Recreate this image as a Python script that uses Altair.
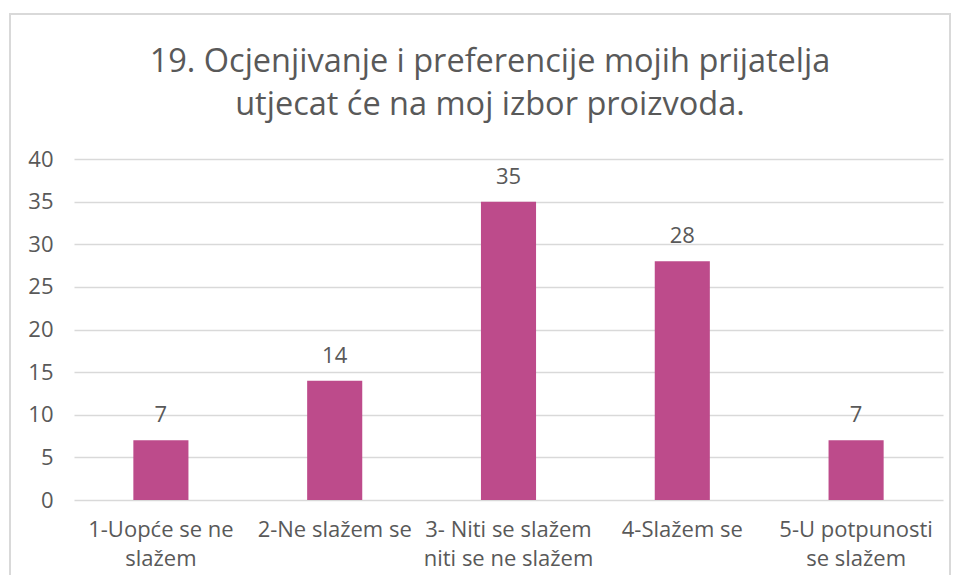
import altair as alt
import pandas as pd

categories = ["1-Uopće se ne\nslažem", "2-Ne slažem se", "3- Niti se slažem\nniti se ne slažem", "4-Slažem se", "5-U potpunosti\nse slažem"]
values = [7, 14, 35, 28, 7]
title_lines = ["19. Ocjenjivanje i preferencije mojih prijatelja", "utjecat će na moj izbor proizvoda."]

df = pd.DataFrame({"cat": categories, "val": values})
one = pd.DataFrame({"a": [0]})

FONT = "Open Sans"
GRAY = "#595959"

base = alt.Chart(df)

border = alt.Chart(one).mark_rect(
    fill="white", fillOpacity=0, stroke="#d9d9d9", strokeWidth=2, clip=False
).encode(x=alt.value(-64), x2=alt.value(876), y=alt.value(-145), y2=alt.value(440))

title1 = alt.Chart(one).mark_text(font=FONT, fontSize=32.5, color=GRAY, baseline="alphabetic",
                                  align="center", text=title_lines[0]).encode(
    x=alt.value(416), y=alt.value(-87))
title2 = alt.Chart(one).mark_text(font=FONT, fontSize=32.5, color=GRAY, baseline="alphabetic",
                                  align="center", text=title_lines[1]).encode(
    x=alt.value(416), y=alt.value(-44))

bars = base.mark_bar(color="#BD4B8B").encode(
    x=alt.X("cat:N", sort=categories, title=None,
            scale=alt.Scale(paddingInner=0.683, paddingOuter=0.3415),
            axis=alt.Axis(labelExpr="split(datum.label, '\\n')", labelAngle=0, labelFont=FONT,
                          labelFontSize=22, labelColor=GRAY, labelPadding=19, labelLineHeight=29,
                          ticks=False, domain=False, grid=False)),
    y=alt.Y("val:Q", title=None, scale=alt.Scale(domain=[0, 40]),
            axis=alt.Axis(values=[0, 5, 10, 15, 20, 25, 30, 35, 40], labelFont=FONT, labelFontSize=22,
                          labelColor=GRAY, labelPadding=21, ticks=False, domain=False,
                          gridColor="#d9d9d9", gridWidth=1.5)),
)

labels = base.mark_text(font=FONT, fontSize=22, color=GRAY, baseline="alphabetic", dy=-18).encode(
    x=alt.X("cat:N", sort=categories), y="val:Q", text="val:Q"
)

chart = alt.layer(border, bars, labels, title1, title2).properties(
    width=869, height=341,
    autosize=alt.AutoSizeParams(type="none"),
    padding={"left": 66, "top": 151, "right": 8, "bottom": 75},
).configure_view(stroke=None)

chart.save("out.html", embed_options={"renderer": "svg", "actions": False})
